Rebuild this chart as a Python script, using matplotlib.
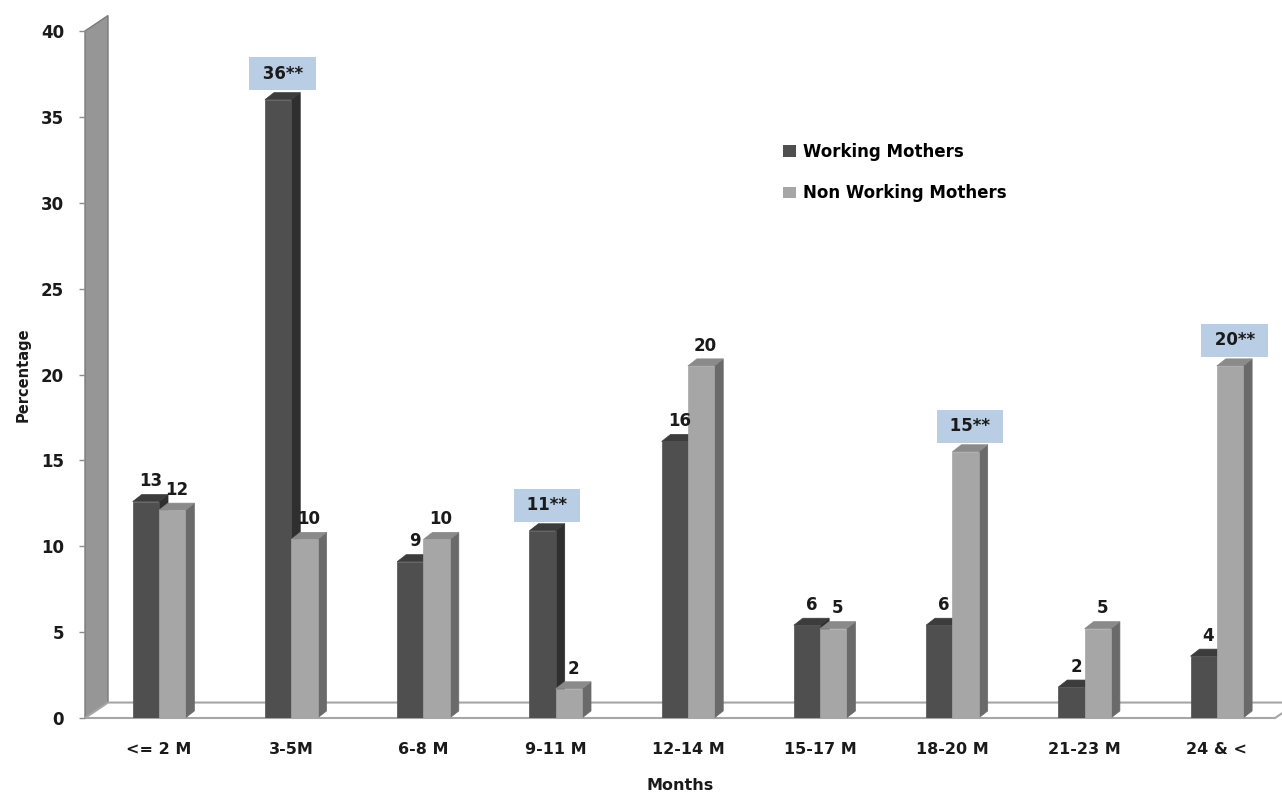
import matplotlib
matplotlib.use("Agg")
import matplotlib.pyplot as plt
from matplotlib.patches import Polygon, Patch

categories = ["<= 2 M", "3-5M", "6-8 M", "9-11 M", "12-14 M", "15-17 M", "18-20 M", "21-23 M", "24 & <"]
working = [12.6, 36.0, 9.1, 10.9, 16.1, 5.4, 5.4, 1.8, 3.6]
non_working = [12.1, 10.4, 10.4, 1.7, 20.5, 5.2, 15.5, 5.2, 20.5]
working_labels = ["13", "36**", "9", "11**", "16", "6", "6", "2", "4"]
non_working_labels = ["12", "10", "10", "2", "20", "5", "15**", "5", "20**"]
yticks = [0, 5, 10, 15, 20, 25, 30, 35, 40]

plt.rcParams['font.family'] = ['DejaVu Sans']

W, H = 1282, 797
fig = plt.figure(figsize=(W / 100, H / 100), dpi=100)
ax = fig.add_axes([85 / W, 79 / H, 1190 / W, 687 / H])
x0, x1 = -0.56, 8.44
ax.set_xlim(x0, x1)
ax.set_ylim(0, 40)

# depth of bars and of wall/floor (data units)
bdx, bdy = 0.068, 0.41
wdx, wdy = 0.174, 0.9
bw = 0.199

# back wall
ax.add_patch(Polygon([(x0, 0), (x0, 40), (x0 + wdx, 40 + wdy), (x0 + wdx, wdy)],
                     closed=True, facecolor="#969696", edgecolor="#7a7a7a", lw=1, clip_on=False, zorder=1))
# floor
ax.add_patch(Polygon([(x0, 0), (x0 + wdx, wdy), (x1 + wdx, wdy), (x1, 0)],
                     closed=True, facecolor="white", edgecolor="#a6a6a6", lw=1.5, clip_on=False, zorder=1))


def bar3d(x, v, front, side, top):
    ax.add_patch(Polygon([(x + bw, 0), (x + bw + bdx, bdy), (x + bw + bdx, v + bdy), (x + bw, v)],
                         closed=True, facecolor=side, edgecolor=side, lw=0.5, zorder=3))
    ax.add_patch(Polygon([(x, v), (x + bdx, v + bdy), (x + bw + bdx, v + bdy), (x + bw, v)],
                         closed=True, facecolor=top, edgecolor=top, lw=0.5, zorder=3))
    ax.bar(x, v, width=bw, align="edge", color=front, edgecolor=front, lw=0.5, zorder=3)


def add_label(x, v, txt):
    cx = x + bw / 2 + bdx / 2
    if "**" in txt:
        ax.annotate(" " + txt + " ", (cx, v + bdy), xytext=(0, 7), textcoords="offset points",
                    ha="center", va="bottom", fontsize=12, fontweight="bold", color="#1a1a1a",
                    bbox=dict(boxstyle="square,pad=0.45", facecolor="#b9cde5", edgecolor="none"),
                    zorder=5, annotation_clip=False)
    else:
        ax.annotate(txt, (cx, v + bdy), xytext=(0, 3), textcoords="offset points",
                    ha="center", va="bottom", fontsize=12, fontweight="bold", color="#1a1a1a",
                    zorder=5, annotation_clip=False)


for i in range(len(categories)):
    bar3d(i - bw, working[i], "#4f4f4f", "#2f2f2f", "#3c3c3c")
    bar3d(i, non_working[i], "#a6a6a6", "#6a6a6a", "#8a8a8a")
    add_label(i - bw, working[i], working_labels[i])
    add_label(i, non_working[i], non_working_labels[i])

for s in ax.spines.values():
    s.set_visible(False)

ax.set_yticks(yticks)
ax.set_yticklabels([str(t) for t in yticks], fontsize=12, fontweight="bold", color="#1a1a1a")
ax.tick_params(axis="y", length=4, color="#8c8c8c", width=1, pad=11)
ax.set_xticks(range(len(categories)))
ax.set_xticklabels(categories, fontsize=11.5, fontweight="bold", color="#1a1a1a")
ax.tick_params(axis="x", length=0, pad=17)

ax.set_ylabel("Percentage", fontsize=10.5, fontweight="bold", color="#1a1a1a")
ax.yaxis.set_label_coords(-0.046, 0.5)
ax.set_xlabel("Months", fontsize=11.5, fontweight="bold", color="#1a1a1a")
ax.xaxis.set_label_coords(0.5, -0.088)

handles = [Patch(facecolor="#4f4f4f", label="Working Mothers"),
           Patch(facecolor="#a6a6a6", label="Non Working Mothers")]
fig.legend(handles=handles, loc="upper left", bbox_to_anchor=(768 / W, 1 - 128 / H),
           frameon=False, prop={"weight": "bold", "size": 12},
           handlelength=0.8, handleheight=0.7, handletextpad=0.4, labelspacing=1.4)

fig.savefig("out.png", dpi=100)
